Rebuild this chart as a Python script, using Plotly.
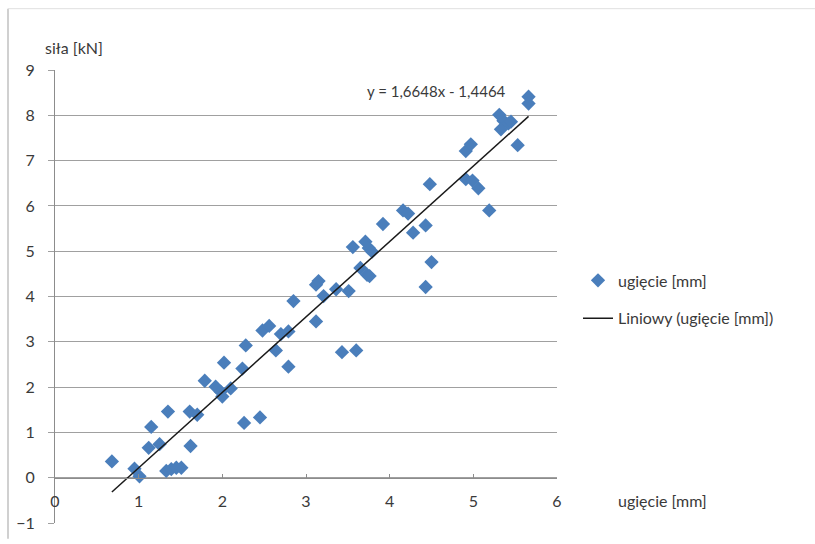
import plotly.graph_objects as go
import numpy as np

# ---- data ----
ugiecie_mm = [0.68, 0.95, 1.01, 1.12, 1.15, 1.25, 1.35, 1.33, 1.39, 1.45, 1.51,
              1.61, 1.62, 1.70, 1.79, 1.92, 1.98, 2.00, 2.02, 2.10, 2.24, 2.28,
              2.26, 2.45, 2.48, 2.56, 2.64, 2.70, 2.79, 2.79, 2.85, 3.12, 3.12,
              3.15, 3.21, 3.36, 3.43, 3.51, 3.56, 3.60, 3.65, 3.71, 3.73, 3.76,
              3.75, 3.79, 3.92, 4.16, 4.22, 4.28, 4.43, 4.43, 4.50, 4.48, 4.91,
              4.99, 4.91, 4.97, 5.06, 5.19, 5.31, 5.36, 5.42, 5.33, 5.45, 5.53,
              5.66, 5.66]
sila_kN = [0.36, 0.20, 0.03, 0.66, 1.12, 0.74, 1.46, 0.15, 0.19, 0.22, 0.22,
           1.46, 0.70, 1.39, 2.14, 2.01, 1.90, 1.79, 2.54, 1.97, 2.41, 2.92,
           1.21, 1.33, 3.25, 3.35, 2.81, 3.17, 3.23, 2.45, 3.90, 3.45, 4.26,
           4.34, 4.01, 4.16, 2.77, 4.12, 5.09, 2.81, 4.63, 5.21, 4.48, 4.45,
           5.07, 4.99, 5.60, 5.90, 5.83, 5.41, 5.57, 4.21, 4.76, 6.48, 6.59,
           6.56, 7.21, 7.36, 6.39, 5.90, 8.01, 7.88, 7.82, 7.69, 7.86, 7.34,
           8.41, 8.26]
trend_slope = 1.6648
trend_intercept = -1.4464
x_ticks = [0, 1, 2, 3, 4, 5, 6]
y_ticks = [-1, 0, 1, 2, 3, 4, 5, 6, 7, 8, 9]

# ---- layout geometry ----
W, H = 815, 544
L, R, T, B = 55, 258, 70, 16
pw, ph = W - L - R, H - T - B

def px(xp):
    return (xp - L) / pw

def py(yp):
    return (H - B - yp) / ph

FONT = "Lato"
TXT = "#3a3a3a"

trend_x = [min(ugiecie_mm), max(ugiecie_mm)]
trend_y = [trend_slope * v + trend_intercept for v in trend_x]

fig = go.Figure()
fig.add_trace(go.Scatter(
    x=ugiecie_mm, y=sila_kN, mode="markers", name="ugięcie [mm]",
    marker=dict(symbol="diamond", size=11, color="#4a7ebb"),
    legendgroup="a", cliponaxis=False))
fig.add_trace(go.Scatter(
    x=trend_x, y=trend_y, mode="lines", name="Liniowy (ugięcie [mm])",
    line=dict(color="#1a1a1a", width=1.5), legendgroup="b"))

fig.update_layout(
    width=W, height=H,
    margin=dict(l=L, r=R, t=T, b=B),
    paper_bgcolor="white", plot_bgcolor="white",
    font=dict(family=FONT, size=16, color=TXT),
    showlegend=True,
    legend=dict(x=px(578), y=py(302), xanchor="left", yanchor="middle",
                traceorder="grouped", tracegroupgap=14,
                font=dict(family=FONT, size=16, color=TXT),
                bgcolor="rgba(0,0,0,0)"),
    xaxis=dict(range=[0, 6], tickvals=x_ticks, showgrid=False, zeroline=False,
               showline=True, linecolor="#8c8c8c", linewidth=1,
               anchor="free", position=0.1,
               ticks="inside", ticklen=4, tickcolor="#8c8c8c",
               ticklabelstandoff=9,
               tickfont=dict(family=FONT, size=16, color=TXT)),
    yaxis=dict(range=[-1, 9], tickvals=y_ticks, showgrid=True,
               gridcolor="#a0a0a0", gridwidth=1, zeroline=False,
               showline=True, linecolor="#8c8c8c", linewidth=1,
               ticks="outside", ticklen=6, tickcolor="#a0a0a0",
               ticklabelstandoff=10,
               tickfont=dict(family=FONT, size=16, color=TXT)),
    annotations=[
        dict(text="siła [kN]", xref="paper", yref="paper",
             x=px(43), y=py(47), xanchor="left", yanchor="middle",
             showarrow=False, font=dict(family=FONT, size=16, color=TXT)),
        dict(text="ugięcie [mm]", xref="paper", yref="paper",
             x=px(616), y=py(505), xanchor="left", yanchor="middle",
             showarrow=False, font=dict(family=FONT, size=16, color=TXT)),
        dict(text="y = 1,6648x - 1,4464", xref="paper", yref="paper",
             x=px(365), y=py(91), xanchor="left", yanchor="middle",
             showarrow=False, font=dict(family=FONT, size=15, color=TXT)),
    ],
    shapes=[
        dict(type="line", xref="paper", yref="paper",
             x0=px(8), x1=px(8), y0=py(8), y1=py(544),
             line=dict(color="#d0d0d0", width=2)),
        dict(type="line", xref="paper", yref="paper",
             x0=px(8), x1=px(815), y0=py(8), y1=py(8),
             line=dict(color="#e0e0e0", width=1)),
    ],
)

fig.write_html("out.html")
